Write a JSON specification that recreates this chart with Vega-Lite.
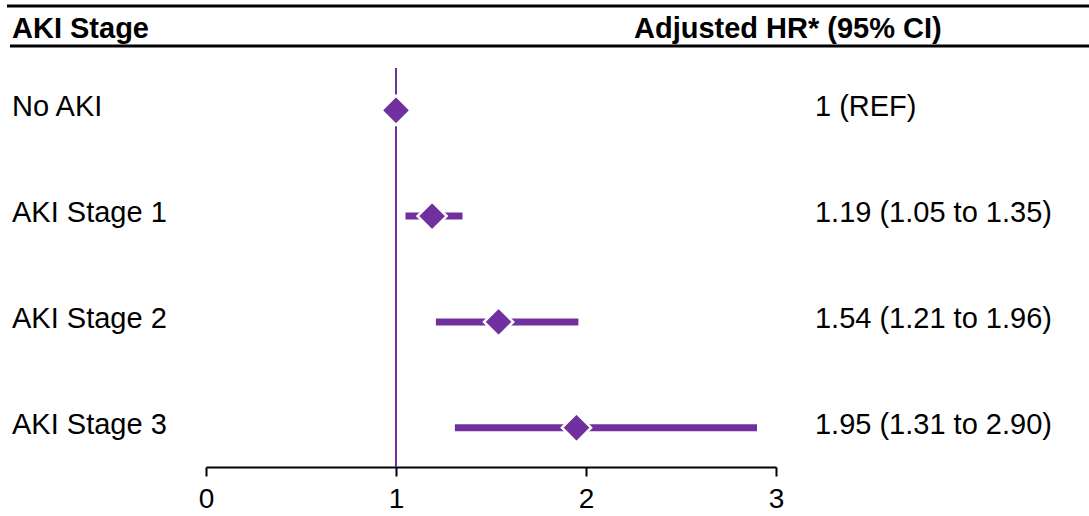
{
  "$schema": "https://vega.github.io/schema/vega-lite/v6.json",
  "autosize": {"type": "none"},
  "padding": {"left": 206, "right": 313, "top": 0, "bottom": 49},
  "width": 570,
  "height": 467,
  "config": {
    "view": {"stroke": null},
    "font": "Liberation Sans",
    "text": {"font": "Liberation Sans", "color": "black"}
  },
  "datasets": {
    "rows": [
      {"label": "No AKI", "row": 1, "hr": 1, "lo": null, "hi": null, "ci": "1 (REF)"},
      {"label": "AKI Stage 1", "row": 2, "hr": 1.19, "lo": 1.05, "hi": 1.35, "ci": "1.19 (1.05 to 1.35)"},
      {"label": "AKI Stage 2", "row": 3, "hr": 1.54, "lo": 1.21, "hi": 1.96, "ci": "1.54 (1.21 to 1.96)"},
      {"label": "AKI Stage 3", "row": 4, "hr": 1.95, "lo": 1.31, "hi": 2.90, "ci": "1.95 (1.31 to 2.90)"}
    ],
    "rules": [
      {"x1": -1.0474, "x2": 4.6474, "y": 0.0142},
      {"x1": -1.0316, "x2": 4.6474, "y": 0.3922}
    ],
    "headers": [
      {"x": -1.021, "y": 0.3166, "text": "AKI Stage"},
      {"x": 2.2526, "y": 0.3166, "text": "Adjusted HR* (95% CI)"}
    ],
    "ref": [{"hr": 1, "y1": 0.6002, "y2": 4.3715}]
  },
  "layer": [
    {
      "data": {"name": "rules"},
      "mark": {"type": "rule", "color": "black", "strokeWidth": 3},
      "encoding": {
        "x": {"field": "x1", "type": "quantitative", "scale": {"domain": [0, 3], "nice": false, "zero": false},
              "axis": {"values": [0, 1, 2, 3], "format": "d", "title": null, "grid": false, "domainColor": "black", "domainWidth": 2, "tickColor": "black", "tickWidth": 2, "tickSize": 9, "labelFontSize": 28, "labelFont": "Liberation Sans", "labelColor": "black", "labelPadding": 9, "labelFlush": false}},
        "x2": {"field": "x2"},
        "y": {"field": "y", "type": "quantitative", "scale": {"domain": [-0.0425, 4.3715], "reverse": true, "nice": false, "zero": false}, "axis": null}
      }
    },
    {
      "data": {"name": "headers"},
      "mark": {"type": "text", "align": "left", "baseline": "alphabetic", "fontSize": 29, "fontWeight": "bold"},
      "encoding": {
        "x": {"field": "x", "type": "quantitative"},
        "y": {"field": "y", "type": "quantitative"},
        "text": {"field": "text"}
      }
    },
    {
      "data": {"name": "ref"},
      "mark": {"type": "rule", "color": "#7030A0", "strokeWidth": 2},
      "encoding": {
        "x": {"field": "hr", "type": "quantitative"},
        "y": {"field": "y1", "type": "quantitative"},
        "y2": {"field": "y2"}
      }
    },
    {
      "data": {"name": "rows"},
      "transform": [{"filter": "datum.lo != null"}],
      "mark": {"type": "rule", "color": "#7030A0", "strokeWidth": 7},
      "encoding": {
        "x": {"field": "lo", "type": "quantitative"},
        "x2": {"field": "hi"},
        "y": {"field": "row", "type": "quantitative"}
      }
    },
    {
      "data": {"name": "rows"},
      "mark": {"type": "point", "shape": "diamond", "filled": true, "size": 850, "color": "#7030A0", "opacity": 1, "stroke": "white", "strokeWidth": 2.5},
      "encoding": {
        "x": {"field": "hr", "type": "quantitative"},
        "y": {"field": "row", "type": "quantitative"}
      }
    },
    {
      "data": {"name": "rows"},
      "mark": {"type": "text", "align": "left", "baseline": "middle", "fontSize": 29, "dy": -3},
      "encoding": {
        "x": {"datum": -1.021, "type": "quantitative"},
        "y": {"field": "row", "type": "quantitative"},
        "text": {"field": "label"}
      }
    },
    {
      "data": {"name": "rows"},
      "mark": {"type": "text", "align": "left", "baseline": "middle", "fontSize": 29, "dy": -3},
      "encoding": {
        "x": {"datum": 3.205, "type": "quantitative"},
        "y": {"field": "row", "type": "quantitative"},
        "text": {"field": "ci"}
      }
    }
  ]
}
